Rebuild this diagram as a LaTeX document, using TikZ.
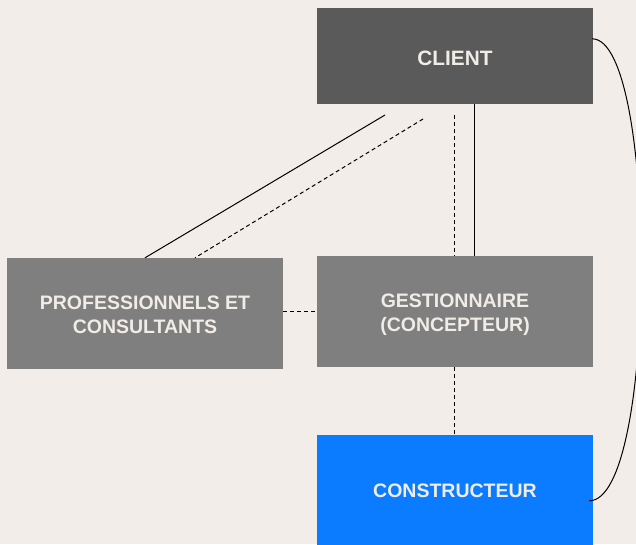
\documentclass[tikz,border=0pt]{standalone}
\usepackage{fontspec}
\setmainfont{Liberation Sans}
\usetikzlibrary{calc}
\definecolor{bgc}{HTML}{F2EDE8}
\definecolor{darkbox}{HTML}{5A5A5A}
\definecolor{graybox}{HTML}{7F7F7F}
\definecolor{bluebox}{HTML}{0B7CFF}
\definecolor{txtc}{HTML}{F0ECE6}
\tikzset{
  box/.style={rectangle, inner sep=0pt, minimum width=276pt, align=center,
    text=txtc, font=\fontsize{19.5}{23.6}\selectfont\bfseries},
  link/.style={line width=1pt, black},
  dlink/.style={line width=1pt, black, dash pattern=on 4pt off 3pt}
}
\begin{document}
\begin{tikzpicture}[x=1pt,y=-1pt]
\useasboundingbox (0,0) rectangle (636,544);
\fill[bgc] (0,0) rectangle (636,544);
\node[box, fill=darkbox, minimum height=96pt, font=\fontsize{20.8}{25}\selectfont\bfseries, text height=18pt, text depth=0pt] (client) at (455,56) {CLIENT};
\node[box, fill=graybox, minimum height=111pt, text height=39.6pt, text depth=0pt] (prof) at (145,313.5) {PROFESSIONNELS ET\\CONSULTANTS};
\node[box, fill=graybox, minimum height=111pt, text height=40pt, text depth=0pt] (gest) at (455,311.5) {GESTIONNAIRE\\(CONCEPTEUR)};
\node[box, fill=bluebox, minimum height=111pt] (const) at (455,490.5) {CONSTRUCTEUR};
\coordinate (c1) at (385,115);
\coordinate (c2) at (423,119);
\coordinate (c3) at (454,115);
\draw[link] (c1) -- (prof.north);
\draw[dlink] (c2) -- ($(prof.north)+(50,0)$);
\draw[dlink] (c3) -- (c3 |- gest.north);
\draw[link] ($(client.south)+(19,0)$) -- ($(gest.north)+(19,0)$);
\draw[dlink] (prof.east |- gest.east) -- (gest.west);
\draw[dlink] ($(gest.south)+(-1,0)$) -- ($(const.north)+(-1,0)$);
\draw[link] ($(client.north east)+(-1,31)$) .. controls (658,39) and (658,501) .. ($(const.north east)+(-4,66)$);
\end{tikzpicture}
\end{document}
